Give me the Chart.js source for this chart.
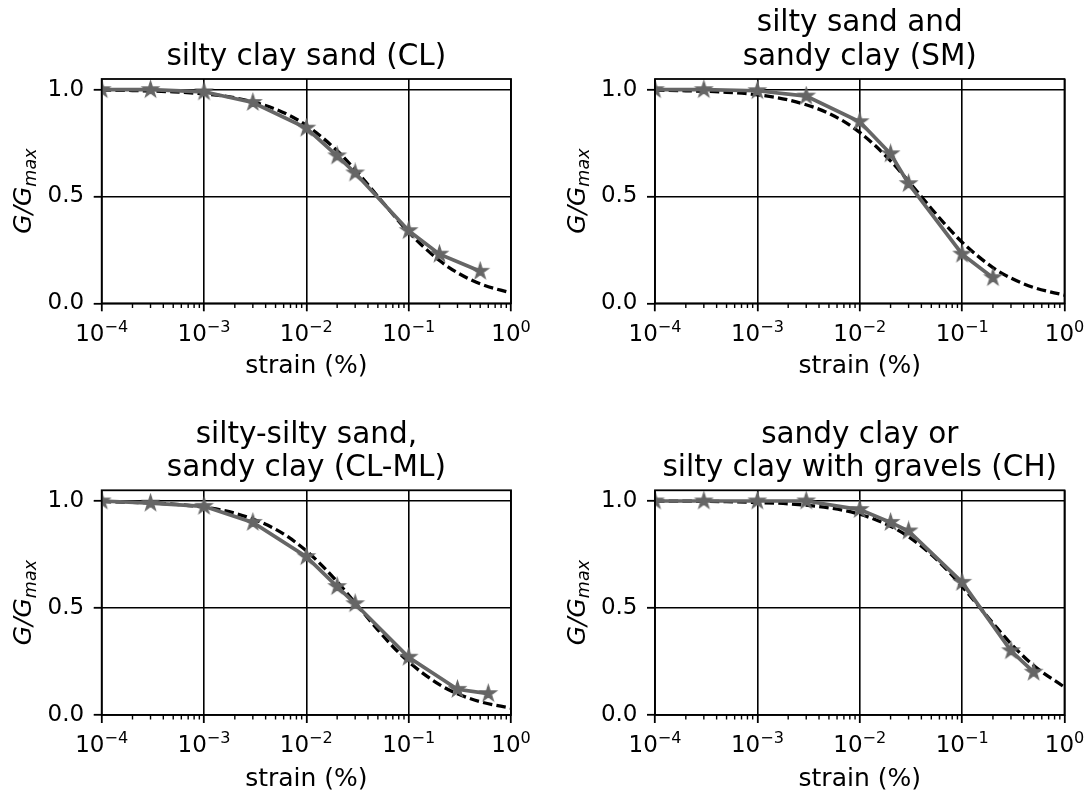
<!DOCTYPE html>
<html>
<head>
<meta charset="utf-8">
<script src="https://cdn.jsdelivr.net/npm/chart.js@4.4.1/dist/chart.umd.min.js"></script>
<style>
html,body{margin:0;padding:0;background:#fff;width:1092px;height:797px;overflow:hidden;}
canvas{position:absolute;}
</style>
</head>
<body>
<canvas id="c0" width="546" height="398" style="left:0px;top:0px"></canvas>
<canvas id="c1" width="546" height="398" style="left:546px;top:0px"></canvas>
<canvas id="c2" width="546" height="398" style="left:0px;top:411px"></canvas>
<canvas id="c3" width="546" height="398" style="left:546px;top:411px"></canvas>
<script>
// ---------------- data ----------------
const X_MAJOR = [1e-4, 1e-3, 1e-2, 1e-1, 1];
const X_TICK_BASE = '10';
const X_TICK_EXP = ['−4', '−3', '−2', '−1', '0'];
const Y_TICKS = [0, 0.5, 1.0];
const Y_TICK_LABELS = ['0.0', '0.5', '1.0'];
const X_LABEL = 'strain (%)';

const TITLES = [
  ['silty clay sand (CL)'],
  ['silty sand and', 'sandy clay (SM)'],
  ['silty-silty sand,', 'sandy clay (CL-ML)'],
  ['sandy clay or', 'silty clay with gravels (CH)']
];

// measured points (grey line with stars)
const CL_STRAIN   = [1e-4, 3e-4, 1e-3, 3e-3, 1e-2, 2e-2, 3e-2, 1e-1, 2e-1, 5e-1];
const CL_GG       = [1.00, 1.00, 0.99, 0.94, 0.82, 0.69, 0.61, 0.34, 0.23, 0.15];
const SM_STRAIN   = [1e-4, 3e-4, 1e-3, 3e-3, 1e-2, 2e-2, 3e-2, 1e-1, 2e-1];
const SM_GG       = [1.00, 1.00, 0.995, 0.97, 0.85, 0.70, 0.56, 0.23, 0.12];
const CLML_STRAIN = [1e-4, 3e-4, 1e-3, 3e-3, 1e-2, 2e-2, 3e-2, 1e-1, 3e-1, 6e-1];
const CLML_GG     = [1.00, 0.99, 0.975, 0.90, 0.74, 0.60, 0.52, 0.27, 0.12, 0.10];
const CH_STRAIN   = [1e-4, 3e-4, 1e-3, 3e-3, 1e-2, 2e-2, 3e-2, 1e-1, 3e-1, 5e-1];
const CH_GG       = [1.00, 1.00, 1.00, 1.00, 0.96, 0.90, 0.86, 0.62, 0.30, 0.20];

// dashed fitted curves
const FIT_STRAIN = [1e-4, 2e-4, 5e-4, 1e-3, 2e-3, 5e-3, 1e-2, 2e-2, 3e-2, 5e-2, 7e-2, 1e-1, 2e-1, 3e-1, 5e-1, 1];
const CL_FIT   = [0.998, 0.996, 0.990, 0.980, 0.962, 0.909, 0.833, 0.714, 0.625, 0.500, 0.417, 0.333, 0.200, 0.143, 0.091, 0.048];
const SM_FIT   = [0.998, 0.995, 0.988, 0.976, 0.952, 0.889, 0.800, 0.667, 0.571, 0.444, 0.364, 0.286, 0.167, 0.118, 0.074, 0.038];
const CLML_FIT = [0.997, 0.994, 0.985, 0.971, 0.943, 0.868, 0.767, 0.623, 0.524, 0.398, 0.320, 0.248, 0.142, 0.099, 0.062, 0.032];
const CH_FIT   = [0.999, 0.999, 0.997, 0.993, 0.987, 0.968, 0.938, 0.882, 0.833, 0.750, 0.682, 0.600, 0.429, 0.333, 0.231, 0.130];

// ---------------- styling / layout ----------------
const FONT = "'DejaVu Sans', 'Liberation Sans', sans-serif";
const GRAY = '#666666';
const TICK_SIZE = 23;
const LABEL_SIZE = 25;
const TITLE_SIZE = 29.5;

const X_MINOR = [];
for (let d = 0; d < X_MAJOR.length - 1; d++) {
  for (let k = 2; k <= 9; k++) X_MINOR.push(k * X_MAJOR[d]);
}

const PANELS = [
  {areaLeft: 101.7, padRight: 35,   areaTop: 79,   areaBottom: 303.3, xTitlePad: 16.3},
  {areaLeft: 109,   padRight: 27.5, areaTop: 79,   areaBottom: 303.3, xTitlePad: 16.3},
  {areaLeft: 101.7, padRight: 35,   areaTop: 79.3, areaBottom: 304,   xTitlePad: 14.3},
  {areaLeft: 109,   padRight: 27.5, areaTop: 79.3, areaBottom: 304,   xTitlePad: 14.3}
];

function makeStar(rOuter, color) {
  const c = document.createElement('canvas');
  const s = Math.ceil(rOuter * 2 + 4);
  c.width = s; c.height = s;
  const g = c.getContext('2d');
  g.translate(s / 2, s / 2);
  g.beginPath();
  for (let i = 0; i < 10; i++) {
    const r = i % 2 === 0 ? rOuter : rOuter * 0.381966;
    const a = -Math.PI / 2 + i * Math.PI / 5;
    g.lineTo(r * Math.cos(a), r * Math.sin(a));
  }
  g.closePath();
  g.fillStyle = color; g.fill();
  g.lineWidth = 1.2; g.strokeStyle = color; g.stroke();
  return c;
}
const STAR = makeStar(8.5, GRAY);

const decor = {
  id: 'decor',
  afterDatasetsDraw(chart) {
    const {ctx, chartArea: a} = chart;
    const x = chart.scales.x;
    ctx.save();
    // minor ticks
    ctx.beginPath();
    for (const v of X_MINOR) {
      const px = x.getPixelForValue(v);
      ctx.moveTo(px, a.bottom);
      ctx.lineTo(px, a.bottom + 4.6);
    }
    ctx.strokeStyle = '#000';
    ctx.lineWidth = 1.4;
    ctx.stroke();
    // frame (spines)
    ctx.lineWidth = 1.8;
    ctx.strokeRect(a.left, a.top, a.right - a.left, a.bottom - a.top);
    ctx.restore();
  },
  afterDraw(chart, args, opts) {
    const {ctx, chartArea: a} = chart;
    const xs = chart.scales.x;
    ctx.save();
    ctx.fillStyle = '#000';
    // x tick labels 10^n (base + superscript)
    ctx.textAlign = 'left';
    ctx.textBaseline = 'alphabetic';
    const baseFont = TICK_SIZE + 'px ' + FONT;
    const supFont = (TICK_SIZE * 0.7) + 'px ' + FONT;
    const by = a.bottom + 37.4;
    X_MAJOR.forEach((v, i) => {
      const px = xs.getPixelForValue(v);
      ctx.font = baseFont;
      const wb = ctx.measureText(X_TICK_BASE).width;
      ctx.font = supFont;
      const we = ctx.measureText(X_TICK_EXP[i]).width;
      const start = px - (wb + we) / 2;
      ctx.font = baseFont;
      ctx.fillText(X_TICK_BASE, start, by);
      ctx.font = supFont;
      ctx.fillText(X_TICK_EXP[i], start + wb, by - 9);
    });
    // title
    const lines = opts.title || [];
    ctx.font = TITLE_SIZE + 'px ' + FONT;
    ctx.textAlign = 'center';
    const cx = (a.left + a.right) / 2;
    for (let i = 0; i < lines.length; i++) {
      const y = a.top - 14 - (lines.length - 1 - i) * 33.6;
      ctx.fillText(lines[i], cx, y);
    }
    // y label G/G_max
    const cy = (a.top + a.bottom) / 2;
    const mainFont = 'italic ' + LABEL_SIZE + 'px ' + FONT;
    const subFont = 'italic ' + (LABEL_SIZE * 0.7) + 'px ' + FONT;
    ctx.font = mainFont;
    const w1 = ctx.measureText('G/G').width;
    ctx.font = subFont;
    const w2 = ctx.measureText('max').width;
    const w = w1 + w2;
    ctx.translate(a.left - 70.5, cy);
    ctx.rotate(-Math.PI / 2);
    ctx.textAlign = 'left';
    ctx.font = mainFont;
    ctx.fillText('G/G', -w / 2, 0);
    ctx.font = subFont;
    ctx.fillText('max', -w / 2 + w1, 4.8);
    ctx.restore();
  }
};

function buildChart(idx, strain, gg, fitStrain, fit) {
  const p = PANELS[idx];
  return new Chart(document.getElementById('c' + idx), {
    type: 'line',
    data: {
      datasets: [
        {
          data: strain.map((v, i) => ({x: v, y: gg[i]})),
          borderColor: GRAY, backgroundColor: GRAY, borderWidth: 3.7,
          pointStyle: STAR, pointRadius: 8, pointHoverRadius: 8,
          tension: 0, order: 1, clip: 0
        },
        {
          data: fitStrain.map((v, i) => ({x: v, y: fit[i]})),
          borderColor: '#000', borderWidth: 3.3, borderDash: [9.5, 4.2],
          pointRadius: 0, cubicInterpolationMode: 'monotone', order: 2, clip: 0
        }
      ]
    },
    options: {
      responsive: false, animation: false, events: [],
      layout: {padding: {left: 0, top: p.areaTop, right: p.padRight, bottom: 0}},
      plugins: {
        legend: {display: false}, tooltip: {enabled: false}, title: {display: false},
        decor: {title: TITLES[idx]}
      },
      scales: {
        x: {
          type: 'logarithmic', min: 1e-4, max: 1, bounds: 'data',
          afterBuildTicks: s => { s.ticks = X_MAJOR.map(v => ({value: v})); },
          afterFit: s => { s.height = 398 - p.areaBottom; },
          ticks: {display: false, autoSkip: false, maxRotation: 0, minRotation: 0},
          grid: {color: '#000', lineWidth: 1.6, drawTicks: true, tickLength: 8, tickWidth: 1.8, tickColor: '#000'},
          border: {display: false},
          title: {display: true, text: X_LABEL, color: '#000', font: {family: FONT, size: LABEL_SIZE}, padding: {top: 0, bottom: p.xTitlePad}}
        },
        y: {
          type: 'linear', min: 0, max: 1.05, bounds: 'data',
          afterBuildTicks: s => { s.ticks = Y_TICKS.map(v => ({value: v})); },
          afterFit: s => { s.width = p.areaLeft; },
          ticks: {
            padding: 9.5, color: '#000', font: {family: FONT, size: TICK_SIZE},
            callback: (v, i) => Y_TICK_LABELS[i]
          },
          grid: {color: '#000', lineWidth: 1.6, drawTicks: true, tickLength: 8, tickWidth: 1.8, tickColor: '#000'},
          border: {display: false}
        }
      }
    },
    plugins: [decor]
  });
}

buildChart(0, CL_STRAIN, CL_GG, FIT_STRAIN, CL_FIT);
buildChart(1, SM_STRAIN, SM_GG, FIT_STRAIN, SM_FIT);
buildChart(2, CLML_STRAIN, CLML_GG, FIT_STRAIN, CLML_FIT);
buildChart(3, CH_STRAIN, CH_GG, FIT_STRAIN, CH_FIT);
</script>
</body>
</html>
